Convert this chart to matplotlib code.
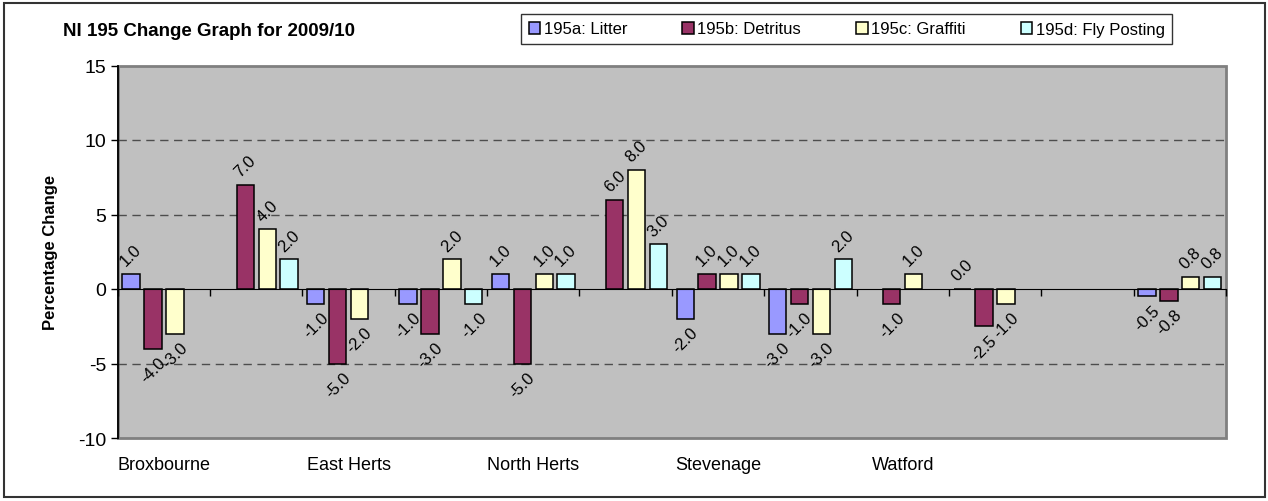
import numpy as np
import matplotlib.pyplot as plt
from matplotlib.patches import Rectangle
from matplotlib.transforms import blended_transform_factory

plt.rcParams['font.family'] = ['Liberation Sans', 'DejaVu Sans']
plt.rcParams['axes.unicode_minus'] = False

# Dados do gráfico
tick_labels = ['Broxbourne', '', 'East Herts', '', 'North Herts', '',
               'Stevenage', '', 'Watford', '', '', '']
nan = np.nan
litter = [1.0, nan, -1.0, -1.0, 1.0, nan, -2.0, -3.0, nan, 0.0, nan, -0.5]
detritus = [-4.0, 7.0, -5.0, -3.0, -5.0, 6.0, 1.0, -1.0, -1.0, -2.5, nan, -0.8]
graffiti = [-3.0, 4.0, -2.0, 2.0, 1.0, 8.0, 1.0, -3.0, 1.0, -1.0, nan, 0.8]
fly_posting = [nan, 2.0, nan, -1.0, 1.0, 3.0, 1.0, 2.0, nan, nan, nan, 0.8]

series = [('195a: Litter', litter, '#9999FF'),
          ('195b: Detritus', detritus, '#993366'),
          ('195c: Graffiti', graffiti, '#FFFFCC'),
          ('195d: Fly Posting', fly_posting, '#CCFFFF')]

W, H = 1268, 502
fig = plt.figure(figsize=(W / 100, H / 100), dpi=100)
ax = fig.add_axes([117.7 / W, 1 - 439 / H, (1226 - 117.7) / W, (439 - 66.5) / H])
ax.set_facecolor('#C0C0C0')

x = np.arange(len(tick_labels))
pitch = 0.237
width = 0.188

handles = []
for i, (name, vals, col) in enumerate(series):
    vals = np.array(vals, dtype=float)
    pos = x + (i - 1.5) * pitch
    ok = ~np.isnan(vals)
    b = ax.bar(pos[ok], vals[ok], width, color=col, edgecolor='black',
               linewidth=1.1, zorder=3, label=name)
    handles.append(b)
    # Rótulos de dados rotacionados
    for px, v in zip(pos[ok], vals[ok]):
        if v >= 0:
            ax.annotate('%.1f' % v, (px, v), xytext=(0, 4), textcoords='offset points',
                        rotation=45, ha='center', va='bottom', fontsize=12, zorder=4)
        else:
            ax.annotate('%.1f' % v, (px, v), xytext=(0, -4), textcoords='offset points',
                        rotation=45, ha='center', va='top', fontsize=12, zorder=4)

ax.set_xlim(-0.5, len(tick_labels) - 0.5)
ax.set_ylim(-10, 15)
ax.set_yticks([-10, -5, 0, 5, 10, 15])
ax.tick_params(axis='y', direction='out', length=5, width=1, labelsize=14, pad=3)
for g in [-5, 5, 10]:
    ax.axhline(g, color='#4d4d4d', lw=1, ls=(0, (6, 4)), zorder=1)

# Eixo horizontal no zero com marcas entre categorias
ax.spines['bottom'].set_position(('data', 0))
ax.spines['bottom'].set_zorder(5)
ax.set_xticks(np.arange(len(tick_labels) + 1) - 0.5)
ax.set_xticklabels([])
ax.tick_params(axis='x', direction='out', length=5, width=1)
ax.spines['top'].set_visible(False)
ax.spines['right'].set_visible(False)
ax.spines['left'].set_linewidth(1.3)
ax.add_patch(Rectangle((0, 0), 1, 1, transform=ax.transAxes, fill=False,
                       ec='#808080', lw=2, zorder=0.5, clip_on=False))

trans = blended_transform_factory(ax.transData, ax.transAxes)
for xi, lab in zip(x, tick_labels):
    ax.text(xi, -0.07, lab, transform=trans, ha='center', va='center', fontsize=13)

fig.text(51 / W, 1 - 252 / H, 'Percentage Change', rotation=90, fontsize=12,
         fontweight='bold', ha='center', va='center')

fig.text(63 / W, 1 - 31.5 / H, 'NI 195 Change Graph for 2009/10', fontsize=13.5,
         fontweight='bold', ha='left', va='center')

leg = fig.legend(handles=handles, loc='upper right', ncol=4,
                 bbox_to_anchor=(1172 / W, 1 - 15 / H), bbox_transform=fig.transFigure,
                 fontsize=12, frameon=True, fancybox=False, edgecolor='black',
                 handlelength=0.7, handleheight=0.7, handletextpad=0.2,
                 columnspacing=3.3, borderpad=0.45, borderaxespad=0)
leg.get_frame().set_linewidth(1)

fig.patches.append(Rectangle((4 / W, 4 / H), 1 - 7 / W, 1 - 8 / H, transform=fig.transFigure,
                             fill=False, ec='#333333', lw=1.5))

fig.savefig('out.png', dpi=100)
